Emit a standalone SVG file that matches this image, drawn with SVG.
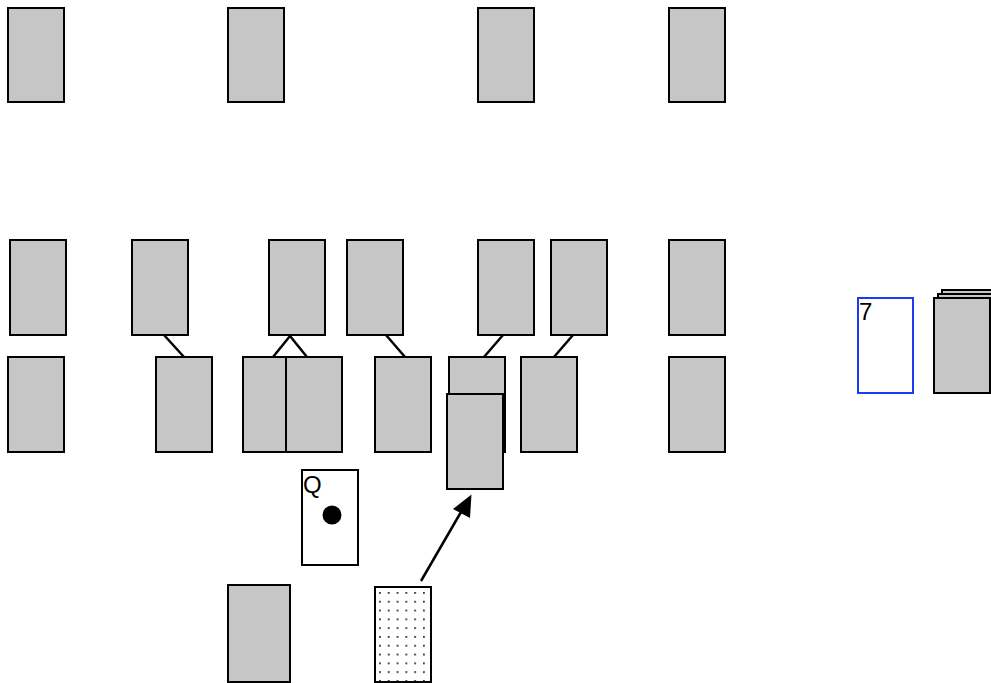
<svg xmlns="http://www.w3.org/2000/svg" width="991" height="683" viewBox="0 0 991 683">
<style>
.c{fill:#c6c6c6;stroke:#000;stroke-width:2}
.w{fill:#fff;stroke:#000;stroke-width:2}
.b{fill:#fff;stroke:#1a3cf0;stroke-width:2}
.l{stroke:#000;stroke-width:2.5;fill:none}
.t{font-family:"Liberation Sans",Arial,sans-serif;font-size:24px;fill:#000}
</style>
<defs>
<pattern id="dots" x="379" y="592" width="8.8" height="8.8" patternUnits="userSpaceOnUse">
<rect x="0" y="0" width="1.8" height="1.8" fill="#333"/>
</pattern>
</defs>
<rect width="991" height="683" fill="#fff"/>
<g id="connectors">
<line class="l" x1="164" y1="335" x2="184" y2="357"/>
<line class="l" x1="290" y1="336" x2="273" y2="357"/>
<line class="l" x1="290" y1="336" x2="307" y2="357"/>
<line class="l" x1="386" y1="335" x2="405" y2="357"/>
<line class="l" x1="503" y1="335" x2="484" y2="357"/>
<line class="l" x1="573" y1="335" x2="554" y2="357"/>
<line class="l" x1="421" y1="581" x2="461" y2="512"/>
<path d="M471.5,494.5 L453,509 L470,518 z" fill="#000"/>
</g>
<g id="top1"><rect class="c" x="8" y="8" width="56" height="94"/></g>
<g id="top2"><rect class="c" x="228" y="8" width="56" height="94"/></g>
<g id="top3"><rect class="c" x="478" y="8" width="56" height="94"/></g>
<g id="top4"><rect class="c" x="669" y="8" width="56" height="94"/></g>
<g id="r2a"><rect class="c" x="10" y="240" width="56" height="95"/></g>
<g id="r2b"><rect class="c" x="132" y="240" width="56" height="95"/></g>
<g id="r2c"><rect class="c" x="269" y="240" width="56" height="95"/></g>
<g id="r2d"><rect class="c" x="347" y="240" width="56" height="95"/></g>
<g id="r2e"><rect class="c" x="478" y="240" width="56" height="95"/></g>
<g id="r2f"><rect class="c" x="551" y="240" width="56" height="95"/></g>
<g id="r2g"><rect class="c" x="669" y="240" width="56" height="95"/></g>
<g id="r3a"><rect class="c" x="8" y="357" width="56" height="95"/></g>
<g id="r3b"><rect class="c" x="156" y="357" width="56" height="95"/></g>
<g id="r3c"><rect class="c" x="243" y="357" width="56" height="95"/></g>
<g id="r3d"><rect class="c" x="286" y="357" width="56" height="95"/></g>
<g id="r3e"><rect class="c" x="375" y="357" width="56" height="95"/></g>
<g id="r3f"><rect class="c" x="449" y="357" width="56" height="95"/></g>
<g id="r3g"><rect class="c" x="521" y="357" width="56" height="95"/></g>
<g id="r3h"><rect class="c" x="669" y="357" width="56" height="95"/></g>
<g id="moving"><rect class="c" x="447" y="394" width="56" height="95"/></g>
<g id="queen"><rect class="w" x="302" y="470" width="56" height="95"/><text class="t" x="303" y="493">Q</text><circle cx="332" cy="515" r="9.5" fill="#000"/></g>
<g id="bottom1"><rect class="c" x="228" y="585" width="62" height="97"/></g>
<g id="dotted"><rect x="375" y="587" width="56" height="95" fill="#fff"/><rect x="375" y="587" width="56" height="95" fill="url(#dots)" stroke="#000" stroke-width="2"/></g>
<g id="seven"><rect class="b" x="858" y="298" width="55" height="95"/><text class="t" x="859" y="320">7</text></g>
<g id="stack"><rect class="c" x="942" y="290" width="56" height="95"/><rect class="c" x="938" y="294" width="56" height="95"/><rect class="c" x="934" y="298" width="56" height="95"/></g>
</svg>
